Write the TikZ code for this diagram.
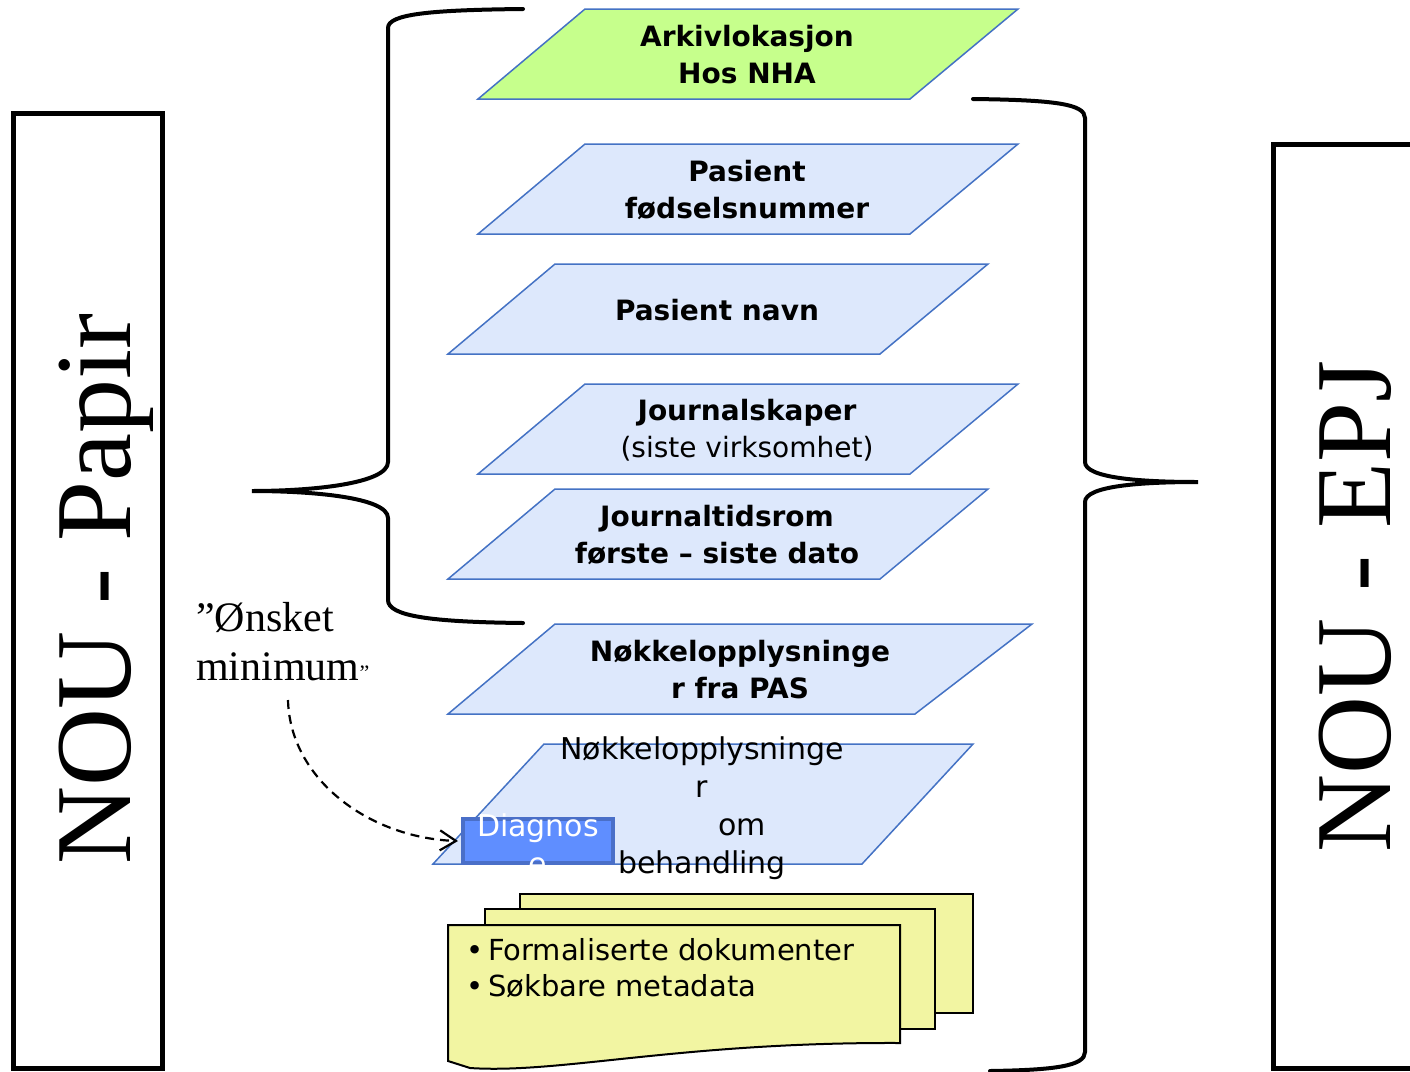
\documentclass[tikz,border=0pt]{standalone}
\usepackage{fontspec}
\setmainfont{Liberation Serif}
\newfontfamily\vsans{DejaVu Sans}
\usetikzlibrary{arrows.meta}
\definecolor{pborder}{HTML}{4472C4}
\definecolor{pfill}{HTML}{DDE8FC}
\definecolor{gfill}{HTML}{C6FF8C}
\definecolor{dfill}{HTML}{5F8EFF}
\definecolor{dborder}{HTML}{4A6FC8}
\definecolor{docfill}{HTML}{F2F5A2}
\begin{document}
\begin{tikzpicture}[x=1pt,y=-1pt,
  para/.style={draw=pborder,fill=pfill,line width=1.5pt,line join=miter},
  greenpara/.style={para,fill=gfill},
  blbl/.style={font=\vsans\bfseries\fontsize{28}{37}\selectfont,align=center,inner sep=0pt},
  rlbl/.style={font=\vsans\fontsize{30}{38}\selectfont,inner sep=0pt,anchor=base},
  brace/.style={draw=black,line width=4pt,line cap=round},
  bigbox/.style={draw=black,line width=5pt},
  bigtxt/.style={font=\fontsize{108}{108}\selectfont,rotate=90,anchor=base,inner sep=0pt},
  doc/.style={draw=black,fill=docfill,line width=2pt,line join=miter},
  note/.style={font=\fontsize{42}{42}\selectfont,anchor=base west,inner sep=0pt}]
\useasboundingbox (0,0) rectangle (1410,1071);

% big side boxes
\draw[bigbox] (13,113) rectangle (162,1068);
\node[bigtxt] (papir) at (130,589) {NOU - Papir};
\draw[bigbox] (1273,144) rectangle (1450,1068);
\node[bigtxt] (epj) at (1390,606) {NOU - EPJ};

% braces
\draw[brace] (523,9) .. controls (430,10) and (388,14) .. (388,28) -- (388,462)
  .. controls (388,484) and (310,491) .. (252,491)
  .. controls (310,491) and (388,497) .. (388,518) -- (388,600)
  .. controls (388,616) and (430,622) .. (523,623);
\draw[brace] (973,99) .. controls (1055,100) and (1085,104) .. (1085,118) -- (1085,462)
  .. controls (1085,478) and (1140,482) .. (1198,482)
  .. controls (1140,482) and (1085,486) .. (1085,502) -- (1085,1052)
  .. controls (1085,1066) and (1055,1070) .. (990,1071);

% parallelograms
\draw[greenpara] (585,9) -- (1018,9) -- (910,99) -- (478,99) -- cycle;
\node[blbl] (ark) at (747,55) {Arkivlokasjon\\Hos NHA};

\draw[para] (585,144) -- (1018,144) -- (910,234) -- (478,234) -- cycle;
\node[blbl] (fnr) at (747,190) {Pasient\\fødselsnummer};

\draw[para] (555,264) -- (988,264) -- (880,354) -- (448,354) -- cycle;
\node[blbl] (navn) at (717,310) {Pasient navn};

\draw[para] (585,384) -- (1018,384) -- (910,474) -- (478,474) -- cycle;
\node[blbl] (jsk) at (747,430) {Journalskaper\\\mdseries(siste virksomhet)};

\draw[para] (555,489) -- (988,489) -- (880,579) -- (448,579) -- cycle;
\node[blbl] (jtr) at (717,535) {Journaltidsrom\\første – siste dato};

\draw[para] (555,624) -- (1032,624) -- (915,714) -- (448,714) -- cycle;
\node[blbl] (pas) at (740,670) {Nøkkelopplysninge\\r fra PAS};

\draw[para] (544,744) -- (973,744) -- (862,864) -- (433,864) -- cycle;

% Diagnose box
\node[draw=dborder,fill=dfill,line width=4pt,minimum width=150pt,minimum height=44pt,inner sep=0pt] (diag) at (538,841) {};
\node[rlbl,text=white] (diag1) at (538,836) {Diagnos};
\node[rlbl,text=white] (diag2) at (538,874) {e};

% behandling text
\node[rlbl] (beh1) at (702,759) {Nøkkelopplysninge};
\node[rlbl] (beh2) at (702,797) {r};
\node[rlbl] (beh3) at (742,835) {om};
\node[rlbl] (beh4) at (702,873) {behandling};

% note
\node[note] (n1) at (196,631) {”Ønsket};
\node[note] (n2) at (196,680) {minimum{\fontsize{22}{22}\selectfont ”}};
\coordinate (a0) at (288,700);
\draw[line width=2.2pt,dash pattern=on 9pt off 6pt,
  -{Straight Barb[length=16pt,width=20pt,line width=2.2pt]}]
  (a0) .. controls (290,780) and (370,838) .. ([xshift=-3pt]diag.west);

% documents
\draw[doc] (520,894) rectangle (973,1013);
\draw[doc] (485,909) rectangle (935,1029);
\draw[doc] (448,925) -- (900,925) -- (900,1043)
  .. controls (680,1042) and (560,1074) .. (470,1068) -- (448,1061) -- cycle;
\node[font=\vsans\fontsize{29}{36}\selectfont,align=left,anchor=north west,inner sep=0pt] (doctxt) at (466,938)
  {•\,Formaliserte dokumenter\\•\,Søkbare metadata};
\end{tikzpicture}
\end{document}
